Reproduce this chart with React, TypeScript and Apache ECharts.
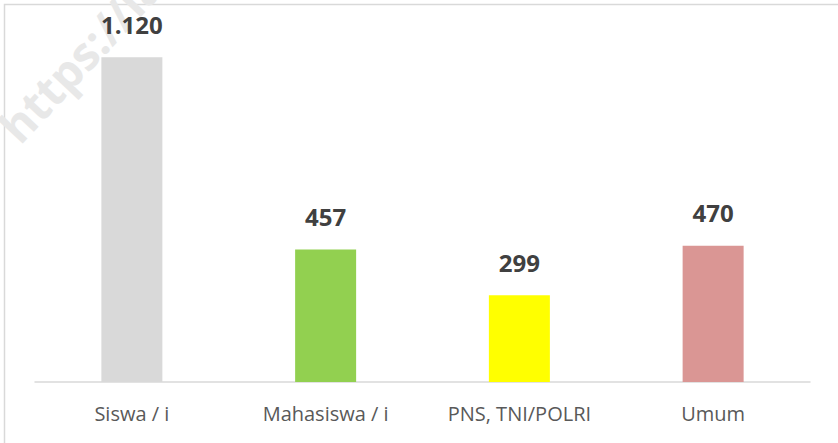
import React, { useEffect, useRef } from "react";
import * as echarts from "echarts";

const categories = ["Siswa / i", "Mahasiswa / i", "PNS, TNI/POLRI", "Umum"];
const values = [1120, 457, 299, 470];
const barColors = ["#D9D9D9", "#92D050", "#FFFF00", "#DA9694"];

export default function App() {
  const ref = useRef<HTMLDivElement>(null);
  useEffect(() => {
    document.body.style.margin = "0";
    const chart = echarts.init(ref.current!, null, { renderer: "svg" });
    chart.setOption({
      animation: false,
      backgroundColor: "#ffffff",
      grid: { left: 35, right: 28, top: 34, bottom: 61 },
      xAxis: {
        type: "category",
        data: categories,
        axisLine: { lineStyle: { color: "#D9D9D9", width: 1.5 } },
        axisTick: { show: false },
        axisLabel: {
          color: "#595959",
          fontSize: 20,
          fontFamily: "Open Sans",
          margin: 21,
        },
      },
      yAxis: {
        type: "value",
        min: 0,
        max: 1200,
        show: false,
        splitLine: { show: false },
      },
      graphic: [
        {
          type: "rect",
          z: -10,
          shape: { x: 4.5, y: 4.5, width: 1000, height: 1000 },
          style: { fill: "none", stroke: "#D9D9D9", lineWidth: 1.5 },
        },
        {
          type: "text",
          z: 0,
          x: 7,
          y: 134,
          rotation: (47 * Math.PI) / 180,
          style: {
            text: "https://la",
            fill: "#E8E8E8",
            font: "bold 46px 'Open Sans'",
            align: "left",
            verticalAlign: "middle",
          },
        },
      ],
      series: [
        {
          type: "bar",
          z: 5,
          barWidth: 61,
          data: values.map((v, i) => ({ value: v, itemStyle: { color: barColors[i] } })),
          label: {
            show: true,
            position: "top",
            distance: 21,
            color: "#404040",
            fontSize: 24,
            fontWeight: "bold",
            fontFamily: "Open Sans",
            formatter: (p: any) =>
              String(p.value).replace(/\B(?=(\d{3})+(?!\d))/g, "."),
          },
        },
      ],
    });
    return () => chart.dispose();
  }, []);
  return <div ref={ref} style={{ width: 838, height: 443 }} />;
}
